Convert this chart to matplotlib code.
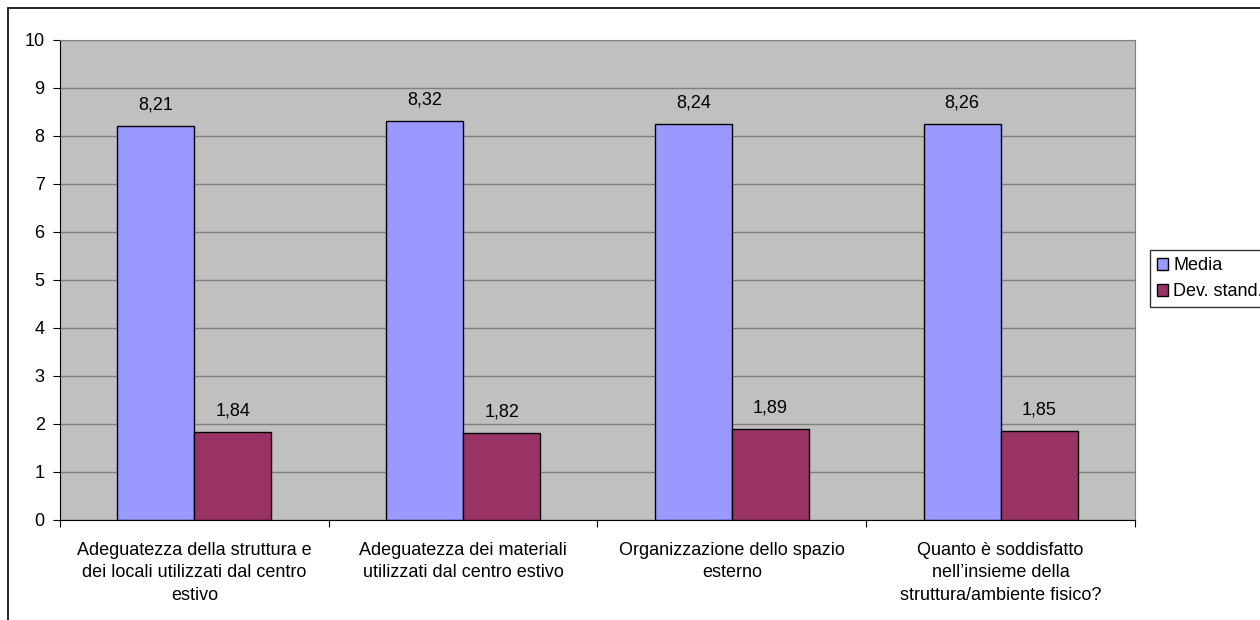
import numpy as np
from matplotlib import pyplot as plt
from matplotlib.patches import Rectangle

plt.rcParams['font.family'] = ['Liberation Sans', 'DejaVu Sans']

# survey results: mean score and standard deviation per question
categories = [
    "Adeguatezza della struttura e\ndei locali utilizzati dal centro\nestivo",
    "Adeguatezza dei materiali\nutilizzati dal centro estivo",
    "Organizzazione dello spazio\nesterno",
    "Quanto è soddisfatto\nnell\u2019insieme della\nstruttura/ambiente fisico?",
]
media = [8.21, 8.32, 8.24, 8.26]
dev_stand = [1.84, 1.82, 1.89, 1.85]
series_names = ["Media", "Dev. stand."]
series_colors = ["#9999FF", "#993366"]

fs = 13

fig = plt.figure(figsize=(12.6, 6.2), dpi=100)
ax = fig.add_axes([0.0476, 0.1613, 0.8532, 0.7742])

# outer chart frame
fig.patches.append(Rectangle((0.0063, -0.5), 2.0, 0.5 + 0.987, transform=fig.transFigure,
                             fill=False, edgecolor="black", linewidth=1.2))

ax.set_facecolor("#C0C0C0")
x = np.arange(len(categories))
width = 0.2865

for i, (vals, name, col) in enumerate(zip([media, dev_stand], series_names, series_colors)):
    pos = x + (i - 0.5) * width
    bars = ax.bar(pos, vals, width, color=col, edgecolor="black", linewidth=1.0,
                  label=name, zorder=3)
    for b, v in zip(bars, vals):
        ax.annotate(f"{v:.2f}".replace(".", ","), (b.get_x() + b.get_width() / 2, v),
                    xytext=(0, 9), textcoords="offset points", ha="center", va="bottom",
                    fontsize=fs)

ax.set_xlim(-0.5, len(categories) - 0.5)
ax.set_ylim(0, 10)
ax.set_yticks(range(0, 11))
ax.yaxis.grid(True, color="#808080", linewidth=1.0, zorder=0)
ax.set_axisbelow(True)

# category labels centred, ticks between groups
ax.set_xticks(np.arange(-0.5, len(categories)), minor=False)
ax.set_xticklabels([])
ax.set_xticks(x, minor=True)
ax.set_xticklabels(categories, minor=True, fontsize=fs, linespacing=1.4)
ax.tick_params(axis="x", which="minor", length=0, pad=16)
ax.tick_params(axis="x", which="major", length=5, direction="out")
ax.tick_params(axis="y", length=5, direction="out", labelsize=fs, pad=6)

for s in ["top", "right"]:
    ax.spines[s].set_color("#808080")
for s in ["left", "bottom"]:
    ax.spines[s].set_color("black")

leg = fig.legend(loc="upper left", bbox_to_anchor=(1150 / 1260, 1 - 250 / 620),
                 fontsize=fs, frameon=True, fancybox=False, edgecolor="black",
                 handlelength=0.6, handleheight=0.6, handletextpad=0.3,
                 borderpad=0.4, labelspacing=0.5, borderaxespad=0)
leg.get_frame().set_linewidth(1.0)

fig.savefig("out.png", dpi=100)
